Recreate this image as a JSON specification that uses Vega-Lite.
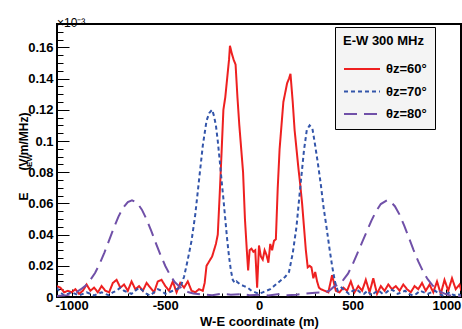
{
"$schema":"https://vega.github.io/schema/vega-lite/v6.json",
"width":404,"height":273,
"autosize":"none",
"padding":{"left":57,"top":24,"right":1,"bottom":32},
"background":"white",
"title":{"text":"×10⁻³","anchor":"start","frame":"group","font":"Liberation Sans","fontSize":12,"fontWeight":"normal","color":"black","baseline":"alphabetic","offset":3,"dy":18},
"config":{"view":{"stroke":"black","strokeWidth":2},"axis":{"grid":false,"domain":false,"labelFont":"Liberation Sans","titleFont":"Liberation Sans","labelColor":"black","titleColor":"black","tickColor":"black","labelFlush":false,"labelOverlap":false}},
"data":{"values":[
{"s":"60","x":-1080,"v":0.007},{"s":"60","x":-1060,"v":0.006},{"s":"60","x":-1040,"v":0.003},{"s":"60","x":-1020,"v":0.004},{"s":"60","x":-1000,"v":0.003},{"s":"60","x":-980,"v":0.005},{"s":"60","x":-960,"v":0.002},{"s":"60","x":-940,"v":0.004},{"s":"60","x":-920,"v":0.008},{"s":"60","x":-900,"v":0.004},{"s":"60","x":-880,"v":0.006},{"s":"60","x":-860,"v":0.003},{"s":"60","x":-840,"v":0.007},{"s":"60","x":-820,"v":0.004},{"s":"60","x":-800,"v":0.003},{"s":"60","x":-780,"v":0.009},{"s":"60","x":-760,"v":0.011},{"s":"60","x":-740,"v":0.006},{"s":"60","x":-720,"v":0.008},{"s":"60","x":-700,"v":0.004},{"s":"60","x":-680,"v":0.010},{"s":"60","x":-660,"v":0.005},{"s":"60","x":-640,"v":0.007},{"s":"60","x":-620,"v":0.004},{"s":"60","x":-600,"v":0.009},{"s":"60","x":-580,"v":0.006},{"s":"60","x":-560,"v":0.003},{"s":"60","x":-540,"v":0.010},{"s":"60","x":-520,"v":0.011},{"s":"60","x":-500,"v":0.007},{"s":"60","x":-480,"v":0.004},{"s":"60","x":-460,"v":0.010},{"s":"60","x":-440,"v":0.003},{"s":"60","x":-420,"v":0.009},{"s":"60","x":-400,"v":0.006},{"s":"60","x":-380,"v":0.010},{"s":"60","x":-360,"v":0.004},{"s":"60","x":-340,"v":0.003},{"s":"60","x":-320,"v":0.005},{"s":"60","x":-300,"v":0.004},{"s":"60","x":-290,"v":0.009},{"s":"60","x":-280,"v":0.020},{"s":"60","x":-270,"v":0.022},{"s":"60","x":-260,"v":0.024},{"s":"60","x":-250,"v":0.026},{"s":"60","x":-240,"v":0.030},{"s":"60","x":-230,"v":0.034},{"s":"60","x":-220,"v":0.040},{"s":"60","x":-210,"v":0.065},{"s":"60","x":-200,"v":0.092},{"s":"60","x":-190,"v":0.120},{"s":"60","x":-180,"v":0.128},{"s":"60","x":-170,"v":0.140},{"s":"60","x":-160,"v":0.152},{"s":"60","x":-155,"v":0.161},{"s":"60","x":-145,"v":0.156},{"s":"60","x":-135,"v":0.152},{"s":"60","x":-125,"v":0.149},{"s":"60","x":-115,"v":0.128},{"s":"60","x":-105,"v":0.110},{"s":"60","x":-95,"v":0.095},{"s":"60","x":-85,"v":0.080},{"s":"60","x":-75,"v":0.050},{"s":"60","x":-65,"v":0.030},{"s":"60","x":-58,"v":0.017},{"s":"60","x":-50,"v":0.030},{"s":"60","x":-40,"v":0.031},{"s":"60","x":-30,"v":0.029},{"s":"60","x":-20,"v":0.030},{"s":"60","x":-10,"v":0.006},{"s":"60","x":0,"v":0.033},{"s":"60","x":10,"v":0.026},{"s":"60","x":20,"v":0.024},{"s":"60","x":30,"v":0.030},{"s":"60","x":40,"v":0.027},{"s":"60","x":50,"v":0.022},{"s":"60","x":60,"v":0.034},{"s":"60","x":70,"v":0.030},{"s":"60","x":80,"v":0.036},{"s":"60","x":90,"v":0.037},{"s":"60","x":100,"v":0.070},{"s":"60","x":110,"v":0.095},{"s":"60","x":120,"v":0.110},{"s":"60","x":130,"v":0.125},{"s":"60","x":140,"v":0.131},{"s":"60","x":150,"v":0.137},{"s":"60","x":160,"v":0.140},{"s":"60","x":168,"v":0.143},{"s":"60","x":180,"v":0.125},{"s":"60","x":190,"v":0.107},{"s":"60","x":200,"v":0.095},{"s":"60","x":210,"v":0.083},{"s":"60","x":220,"v":0.072},{"s":"60","x":230,"v":0.060},{"s":"60","x":240,"v":0.045},{"s":"60","x":250,"v":0.030},{"s":"60","x":260,"v":0.019},{"s":"60","x":270,"v":0.020},{"s":"60","x":280,"v":0.019},{"s":"60","x":290,"v":0.012},{"s":"60","x":300,"v":0.016},{"s":"60","x":310,"v":0.010},{"s":"60","x":320,"v":0.006},{"s":"60","x":330,"v":0.005},{"s":"60","x":350,"v":0.004},{"s":"60","x":370,"v":0.003},{"s":"60","x":390,"v":0.014},{"s":"60","x":410,"v":0.004},{"s":"60","x":430,"v":0.003},{"s":"60","x":450,"v":0.006},{"s":"60","x":470,"v":0.004},{"s":"60","x":490,"v":0.010},{"s":"60","x":510,"v":0.003},{"s":"60","x":530,"v":0.007},{"s":"60","x":550,"v":0.004},{"s":"60","x":570,"v":0.011},{"s":"60","x":590,"v":0.003},{"s":"60","x":610,"v":0.012},{"s":"60","x":630,"v":0.002},{"s":"60","x":650,"v":0.007},{"s":"60","x":670,"v":0.004},{"s":"60","x":690,"v":0.008},{"s":"60","x":710,"v":0.005},{"s":"60","x":730,"v":0.007},{"s":"60","x":750,"v":0.004},{"s":"60","x":770,"v":0.008},{"s":"60","x":790,"v":0.005},{"s":"60","x":810,"v":0.003},{"s":"60","x":830,"v":0.007},{"s":"60","x":850,"v":0.005},{"s":"60","x":870,"v":0.009},{"s":"60","x":890,"v":0.004},{"s":"60","x":910,"v":0.008},{"s":"60","x":930,"v":0.003},{"s":"60","x":950,"v":0.010},{"s":"60","x":970,"v":0.002},{"s":"60","x":990,"v":0.011},{"s":"60","x":1010,"v":0.004},{"s":"60","x":1030,"v":0.012},{"s":"60","x":1050,"v":0.005},{"s":"60","x":1070,"v":0.008},{"s":"60","x":1080,"v":0.004},
{"s":"70","x":-1080,"v":0.006},{"s":"70","x":-1060,"v":0.003},{"s":"70","x":-1040,"v":0.001},{"s":"70","x":-1020,"v":0.002},{"s":"70","x":-1000,"v":0.003},{"s":"70","x":-980,"v":0.002},{"s":"70","x":-960,"v":0.001},{"s":"70","x":-940,"v":0.002},{"s":"70","x":-920,"v":0.003},{"s":"70","x":-900,"v":0.002},{"s":"70","x":-880,"v":0.001},{"s":"70","x":-860,"v":0.002},{"s":"70","x":-840,"v":0.003},{"s":"70","x":-820,"v":0.002},{"s":"70","x":-800,"v":0.001},{"s":"70","x":-780,"v":0.003},{"s":"70","x":-760,"v":0.004},{"s":"70","x":-740,"v":0.006},{"s":"70","x":-720,"v":0.004},{"s":"70","x":-700,"v":0.003},{"s":"70","x":-680,"v":0.002},{"s":"70","x":-660,"v":0.004},{"s":"70","x":-640,"v":0.006},{"s":"70","x":-620,"v":0.004},{"s":"70","x":-600,"v":0.002},{"s":"70","x":-580,"v":0.001},{"s":"70","x":-560,"v":0.003},{"s":"70","x":-540,"v":0.005},{"s":"70","x":-520,"v":0.004},{"s":"70","x":-500,"v":0.002},{"s":"70","x":-480,"v":0.003},{"s":"70","x":-460,"v":0.004},{"s":"70","x":-440,"v":0.005},{"s":"70","x":-420,"v":0.006},{"s":"70","x":-400,"v":0.013},{"s":"70","x":-380,"v":0.024},{"s":"70","x":-360,"v":0.036},{"s":"70","x":-340,"v":0.053},{"s":"70","x":-320,"v":0.075},{"s":"70","x":-300,"v":0.097},{"s":"70","x":-280,"v":0.113},{"s":"70","x":-265,"v":0.118},{"s":"70","x":-250,"v":0.120},{"s":"70","x":-240,"v":0.116},{"s":"70","x":-230,"v":0.110},{"s":"70","x":-220,"v":0.100},{"s":"70","x":-210,"v":0.088},{"s":"70","x":-200,"v":0.075},{"s":"70","x":-190,"v":0.063},{"s":"70","x":-180,"v":0.050},{"s":"70","x":-170,"v":0.037},{"s":"70","x":-160,"v":0.026},{"s":"70","x":-150,"v":0.017},{"s":"70","x":-140,"v":0.011},{"s":"70","x":-130,"v":0.009},{"s":"70","x":-120,"v":0.010},{"s":"70","x":-110,"v":0.009},{"s":"70","x":-100,"v":0.008},{"s":"70","x":-80,"v":0.007},{"s":"70","x":-60,"v":0.006},{"s":"70","x":-40,"v":0.004},{"s":"70","x":-20,"v":0.003},{"s":"70","x":0,"v":0.002},{"s":"70","x":20,"v":0.003},{"s":"70","x":40,"v":0.004},{"s":"70","x":60,"v":0.005},{"s":"70","x":80,"v":0.007},{"s":"70","x":100,"v":0.009},{"s":"70","x":120,"v":0.011},{"s":"70","x":140,"v":0.013},{"s":"70","x":160,"v":0.016},{"s":"70","x":180,"v":0.028},{"s":"70","x":200,"v":0.045},{"s":"70","x":220,"v":0.070},{"s":"70","x":240,"v":0.094},{"s":"70","x":255,"v":0.107},{"s":"70","x":270,"v":0.110},{"s":"70","x":285,"v":0.108},{"s":"70","x":300,"v":0.097},{"s":"70","x":315,"v":0.085},{"s":"70","x":330,"v":0.072},{"s":"70","x":345,"v":0.057},{"s":"70","x":360,"v":0.045},{"s":"70","x":375,"v":0.032},{"s":"70","x":390,"v":0.020},{"s":"70","x":405,"v":0.010},{"s":"70","x":420,"v":0.004},{"s":"70","x":440,"v":0.006},{"s":"70","x":460,"v":0.004},{"s":"70","x":480,"v":0.002},{"s":"70","x":500,"v":0.004},{"s":"70","x":520,"v":0.005},{"s":"70","x":540,"v":0.003},{"s":"70","x":560,"v":0.002},{"s":"70","x":580,"v":0.004},{"s":"70","x":600,"v":0.001},{"s":"70","x":620,"v":0.003},{"s":"70","x":640,"v":0.004},{"s":"70","x":660,"v":0.002},{"s":"70","x":680,"v":0.003},{"s":"70","x":700,"v":0.005},{"s":"70","x":720,"v":0.004},{"s":"70","x":740,"v":0.002},{"s":"70","x":760,"v":0.003},{"s":"70","x":780,"v":0.004},{"s":"70","x":800,"v":0.002},{"s":"70","x":820,"v":0.001},{"s":"70","x":840,"v":0.002},{"s":"70","x":860,"v":0.004},{"s":"70","x":880,"v":0.003},{"s":"70","x":900,"v":0.002},{"s":"70","x":920,"v":0.003},{"s":"70","x":940,"v":0.004},{"s":"70","x":960,"v":0.002},{"s":"70","x":980,"v":0.001},{"s":"70","x":1000,"v":0.002},{"s":"70","x":1020,"v":0.003},{"s":"70","x":1040,"v":0.001},{"s":"70","x":1060,"v":0.002},{"s":"70","x":1080,"v":0.001},
{"s":"80","x":-1080,"v":0.0007},{"s":"80","x":-1050,"v":0.0009},{"s":"80","x":-1025,"v":0.0012},{"s":"80","x":-1000,"v":0.002},{"s":"80","x":-975,"v":0.003},{"s":"80","x":-950,"v":0.005},{"s":"80","x":-925,"v":0.0074},{"s":"80","x":-900,"v":0.011},{"s":"80","x":-875,"v":0.0154},{"s":"80","x":-850,"v":0.0214},{"s":"80","x":-825,"v":0.0285},{"s":"80","x":-800,"v":0.0363},{"s":"80","x":-775,"v":0.0442},{"s":"80","x":-750,"v":0.0515},{"s":"80","x":-725,"v":0.0573},{"s":"80","x":-700,"v":0.0609},{"s":"80","x":-678,"v":0.062},{"s":"80","x":-650,"v":0.0603},{"s":"80","x":-625,"v":0.056},{"s":"80","x":-600,"v":0.0498},{"s":"80","x":-575,"v":0.0424},{"s":"80","x":-550,"v":0.0344},{"s":"80","x":-525,"v":0.0268},{"s":"80","x":-500,"v":0.0199},{"s":"80","x":-475,"v":0.0141},{"s":"80","x":-450,"v":0.0096},{"s":"80","x":-425,"v":0.0068},{"s":"80","x":-400,"v":0.0045},{"s":"80","x":-375,"v":0.003},{"s":"80","x":-350,"v":0.0023},{"s":"80","x":-300,"v":0.0015},{"s":"80","x":-250,"v":0.0012},{"s":"80","x":-200,"v":0.002},{"s":"80","x":-150,"v":0.0015},{"s":"80","x":-100,"v":0.0018},{"s":"80","x":-50,"v":0.0012},{"s":"80","x":0,"v":0.0015},{"s":"80","x":50,"v":0.001},{"s":"80","x":100,"v":0.0018},{"s":"80","x":150,"v":0.0012},{"s":"80","x":200,"v":0.0015},{"s":"80","x":250,"v":0.0022},{"s":"80","x":300,"v":0.0028},{"s":"80","x":350,"v":0.003},{"s":"80","x":375,"v":0.004},{"s":"80","x":400,"v":0.0066},{"s":"80","x":425,"v":0.008},{"s":"80","x":450,"v":0.011},{"s":"80","x":475,"v":0.015},{"s":"80","x":500,"v":0.021},{"s":"80","x":525,"v":0.028},{"s":"80","x":550,"v":0.035},{"s":"80","x":575,"v":0.042},{"s":"80","x":600,"v":0.049},{"s":"80","x":625,"v":0.055},{"s":"80","x":650,"v":0.0596},{"s":"80","x":683,"v":0.062},{"s":"80","x":700,"v":0.0614},{"s":"80","x":725,"v":0.0582},{"s":"80","x":750,"v":0.0528},{"s":"80","x":775,"v":0.0457},{"s":"80","x":800,"v":0.0379},{"s":"80","x":825,"v":0.0301},{"s":"80","x":850,"v":0.0228},{"s":"80","x":875,"v":0.0165},{"s":"80","x":900,"v":0.0114},{"s":"80","x":925,"v":0.0076},{"s":"80","x":950,"v":0.0048},{"s":"80","x":975,"v":0.0029},{"s":"80","x":1000,"v":0.0017},{"s":"80","x":1025,"v":0.0009},{"s":"80","x":1050,"v":0.0006},{"s":"80","x":1080,"v":0.0004}
]},
"layer":[
{"mark":{"type":"line","strokeWidth":2,"clip":true},
 "encoding":{
  "x":{"field":"x","type":"quantitative","scale":{"domain":[-1078,1078],"nice":false,"zero":false},
   "axis":{"orient":"bottom","offset":0,"values":[-1000,-500,0,500,1000],"labelExpr":"'' + datum.value","tickSize":-8,"tickWidth":1,"labelFontSize":13,"labelFontWeight":"bold","labelPadding":10.5,"title":"W-E coordinate (m)","titleFontSize":13,"titleFontWeight":"bold","titleY":28,"titleBaseline":"alphabetic"}},
  "y":{"field":"v","type":"quantitative","scale":{"domain":[0,0.175],"nice":false,"zero":false},
   "axis":{"orient":"left","offset":0,"values":[0,0.02,0.04,0.06,0.08,0.1,0.12,0.14,0.16],"format":"~g","tickSize":-12,"tickWidth":1,"labelFontSize":13,"labelFontWeight":"bold","labelPadding":16,"title":"(V/m/MHz)","titleFontSize":12,"titleFontWeight":"bold","titleAngle":-90,"titleX":-30,"titleY":117,"titleAlign":"center","titleBaseline":"alphabetic"}},
  "color":{"field":"s","type":"nominal","scale":{"domain":["60","70","80"],"range":["#ee2020","#3355aa","#7050a8"]},
   "legend":{"title":"E-W 300 MHz     ","orient":"none","legendX":278,"legendY":3,"labelExpr":"'θz=' + datum.label + '°'","symbolType":"M-1,0H4.143","symbolSize":196,"symbolStrokeWidth":2,"fillColor":"#f4f4f4","strokeColor":"black","padding":8,"titlePadding":13,"rowPadding":7.5,"labelOffset":27,"labelFont":"Liberation Sans","labelFontSize":13,"labelFontWeight":"bold","labelColor":"black","titleFont":"Liberation Sans","titleFontSize":13,"titleFontWeight":"bold","titleColor":"black"}},
  "strokeDash":{"field":"s","type":"nominal","scale":{"domain":["60","70","80"],"range":[[1,0],[4,3],[13,7]]},
   "legend":{"title":"E-W 300 MHz     ","orient":"none","legendX":278,"legendY":3,"labelExpr":"'θz=' + datum.label + '°'","symbolType":"M-1,0H4.143","symbolSize":196,"symbolStrokeWidth":2,"fillColor":"#f4f4f4","strokeColor":"black","padding":8,"titlePadding":13,"rowPadding":7.5,"labelOffset":27,"labelFont":"Liberation Sans","labelFontSize":13,"labelFontWeight":"bold","labelColor":"black","titleFont":"Liberation Sans","titleFontSize":13,"titleFontWeight":"bold","titleColor":"black"}}
 }},
{"mark":{"type":"line","opacity":0,"clip":true},
 "encoding":{
  "x":{"field":"x","type":"quantitative","scale":{"domain":[-1078,1078],"nice":false,"zero":false},
   "axis":{"orient":"bottom","offset":0,"values":[-1000,-900,-800,-700,-600,-500,-400,-300,-200,-100,0,100,200,300,400,500,600,700,800,900,1000],"tickSize":-4,"tickWidth":1,"labels":false,"title":"EW","titleFontSize":8,"titleFontWeight":"bold","titleAngle":-90,"titleX":-25.5,"titleY":-137,"titleAlign":"center","titleBaseline":"alphabetic"}},
  "y":{"field":"v","type":"quantitative","scale":{"domain":[0,0.175],"nice":false,"zero":false},
   "axis":{"orient":"left","offset":0,"values":[0,0.005,0.01,0.015,0.02,0.025,0.03,0.035,0.04,0.045,0.05,0.055,0.06,0.065,0.07,0.075,0.08,0.085,0.09,0.095,0.1,0.105,0.11,0.115,0.12,0.125,0.13,0.135,0.14,0.145,0.15,0.155,0.16,0.165,0.17],"tickSize":-6,"tickWidth":1,"labels":false,"title":"E","titleFontSize":12,"titleFontWeight":"bold","titleAngle":-90,"titleX":-30,"titleY":172,"titleAlign":"center","titleBaseline":"alphabetic"}}
 }}
],
"resolve":{"axis":{"x":"independent","y":"independent"}}
}
